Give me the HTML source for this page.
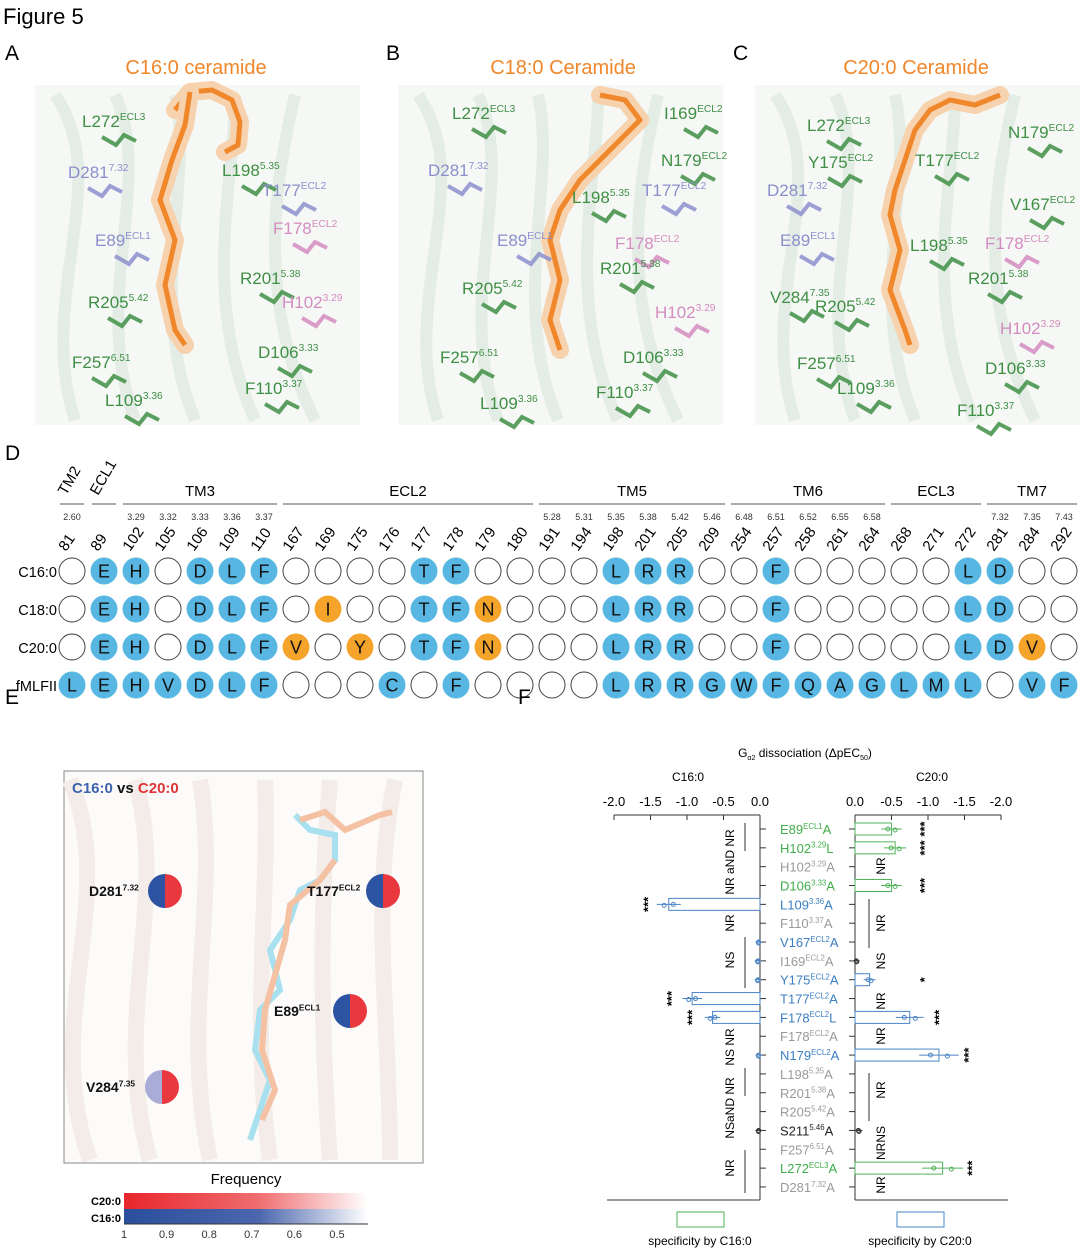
<!DOCTYPE html>
<html><head><meta charset="utf-8"><style>
body{margin:0;background:#fff;}
svg{display:block;font-family:"Liberation Sans",sans-serif;}
</style></head><body>
<svg id="fig" width="1080" height="1250" viewBox="0 0 1080 1250">
<defs>
<linearGradient id="gr" x1="0" x2="1"><stop offset="0" stop-color="#e8262c"/><stop offset="0.55" stop-color="#ef6d6f"/><stop offset="1" stop-color="#fff"/></linearGradient>
<linearGradient id="gb" x1="0" x2="1"><stop offset="0" stop-color="#2a4f9c"/><stop offset="0.55" stop-color="#4b66ad"/><stop offset="1" stop-color="#fff"/></linearGradient>
</defs>
<text x="3" y="24" font-size="22">Figure 5</text>
<g id="structs"></g>
<g id="panelD"></g>
<g id="panelE"></g>
<g id="panelF"></g>
<g font-size="21">
<text x="5" y="60">A</text><text x="386" y="60">B</text><text x="733" y="60">C</text>
<text x="5" y="460">D</text><text x="5" y="704">E</text><text x="518" y="704">F</text>
</g>
</svg>
<script>
const NS="http://www.w3.org/2000/svg";
function mk(p,tag,at,txt){const e=document.createElementNS(NS,tag);for(const k in at)e.setAttribute(k,at[k]);if(txt!=null)e.textContent=txt;p.appendChild(e);return e;}
function lab(p,x,y,base,sup,suf,col,fs){const t=mk(p,'text',{x:x,y:y,fill:col,'font-size':fs||17});mk(t,'tspan',{},base);mk(t,'tspan',{'font-size':(fs||17)*0.6,dy:-(fs||17)*0.4},sup);if(suf)mk(t,'tspan',{dy:(fs||17)*0.4},suf);return t;}

/* ---------- Panels A-C (structures, illustrative) ---------- */
const S=document.getElementById('structs');
const G='#3f8f45',P='#8b8fcc',K='#d48cc0',O='#f0872a';
const panels=[
 {x0:35,title:'C16:0 ceramide',tx:196,
  lig:[[[175,110],[190,92],[212,90],[232,100],[240,122],[238,145],[225,152]],[[190,92],[185,125],[172,160],[160,200],[175,240],[165,285],[175,330],[185,345]]],
  labs:[[82,127,'L272','ECL3',G],[68,178,'D281','7.32',P],[222,176,'L198','5.35',G],[262,196,'T177','ECL2',P],[95,246,'E89','ECL1',P],[273,234,'F178','ECL2',K],[240,284,'R201','5.38',G],[88,308,'R205','5.42',G],[282,308,'H102','3.29',K],[72,368,'F257','6.51',G],[258,358,'D106','3.33',G],[245,394,'F110','3.37',G],[105,406,'L109','3.36',G]]},
 {x0:398,title:'C18:0 Ceramide',tx:563,
  lig:[[[600,95],[625,100],[640,120],[620,140],[600,160],[580,180],[560,210],[550,240],[560,280],[550,320],[560,350]]],
  labs:[[452,119,'L272','ECL3',G],[664,119,'I169','ECL2',G],[428,176,'D281','7.32',P],[661,166,'N179','ECL2',G],[572,203,'L198','5.35',G],[642,196,'T177','ECL2',P],[497,246,'E89','ECL1',P],[615,249,'F178','ECL2',K],[600,274,'R201','5.38',G],[462,294,'R205','5.42',G],[655,318,'H102','3.29',K],[440,363,'F257','6.51',G],[623,363,'D106','3.33',G],[480,409,'L109','3.36',G],[596,398,'F110','3.37',G]]},
 {x0:755,title:'C20:0 Ceramide',tx:916,
  lig:[[[1000,95],[975,105],[950,100],[930,110],[915,130],[905,160],[895,190],[890,215],[900,250],[890,290],[905,330],[910,345]]],
  labs:[[807,131,'L272','ECL3',G],[1008,138,'N179','ECL2',G],[808,168,'Y175','ECL2',G],[915,166,'T177','ECL2',G],[767,196,'D281','7.32',P],[1010,210,'V167','ECL2',G],[780,246,'E89','ECL1',P],[910,251,'L198','5.35',G],[985,249,'F178','ECL2',K],[968,284,'R201','5.38',G],[770,303,'V284','7.35',G],[815,312,'R205','5.42',G],[1000,334,'H102','3.29',K],[797,369,'F257','6.51',G],[985,374,'D106','3.33',G],[837,394,'L109','3.36',G],[957,416,'F110','3.37',G]]}
];
panels.forEach((pn,i)=>{
 const g=mk(S,'g',{});
 
 
 mk(g,'rect',{x:pn.x0,y:85,width:325,height:340,fill:'#f5f8f5'});
 for(let k=0;k<5;k++){mk(g,'path',{d:`M${pn.x0+20+k*60} 95 C ${pn.x0+80+k*40} 180, ${pn.x0+k*55} 300, ${pn.x0+40+k*60} 420`,stroke:'#e4ede5','stroke-width':12,fill:'none'});}
 mk(g,'text',{x:pn.tx,y:74,'text-anchor':'middle','font-size':20,fill:O},pn.title);
 pn.lig.forEach(l=>{const d='M'+l.map(p=>p.join(' ')).join(' L');
  mk(g,'path',{d:d,stroke:'#f7d2ae','stroke-width':18,fill:'none','stroke-linejoin':'round','stroke-linecap':'round'});
  mk(g,'path',{d:d,stroke:O,'stroke-width':5,fill:'none','stroke-linejoin':'round'});});
 pn.labs.forEach(L=>{
  mk(g,'path',{d:`M${L[0]+20} ${L[1]+10} l14 8 l8 -10 l12 6`,stroke:L[4],'stroke-width':4,fill:'none',opacity:0.85});
  lab(g,L[0],L[1],L[2],L[3],null,L[4],17);});
});

/* ---------- Panel D ---------- */
const residues=['81','89','102','105','106','109','110','167','169','175','176','177','178','179','180','191','194','198','201','205','209','254','257','258','261','264','268','271','272','281','284','292'];
const bw=['2.60','','3.29','3.32','3.33','3.36','3.37','','','','','','','','','5.28','5.31','5.35','5.38','5.42','5.46','6.48','6.51','6.52','6.55','6.58','','','','7.32','7.35','7.43'];
const rowNames=['C16:0','C18:0','C20:0','fMLFII'];
const rowC16=['','E','H','','D','L','F','','','','','T','F','','','','','L','R','R','','','F','','','','','','L','D','',''];
const rowC18=['','E','H','','D','L','F','','I*','','','T','F','N*','','','','L','R','R','','','F','','','','','','L','D','',''];
const rowC20=['','E','H','','D','L','F','V*','','Y*','','T','F','N*','','','','L','R','R','','','F','','','','','','L','D','V*',''];
const rowFML=['L','E','H','V','D','L','F','','','','C','','F','','','','','L','R','R','G','W','F','Q','A','G','L','M','L','','V','F'];
const groups=[['TM3',2,6],['ECL2',7,14],['TM5',15,20],['TM6',21,25],['ECL3',26,28],['TM7',29,31]];
const D=document.getElementById('panelD');
const cx=i=>72+i*32.0, ry=[571,609,647,685];
groups.forEach(gr=>{
 const a=cx(gr[1])-13,b=cx(gr[2])+13;
 const t=mk(D,'text',{x:(a+b)/2,y:496,'text-anchor':'middle','font-size':15},gr[0]);
 
 
 mk(D,'line',{x1:a,x2:b,y1:504,y2:504,stroke:'#555','stroke-width':1});
});
[['TM2',0],['ECL1',1]].forEach(r=>{
 mk(D,'text',{x:cx(r[1])-6,y:496,'font-size':15,transform:`rotate(-60 ${cx(r[1])-6} 496)`},r[0]);
 mk(D,'line',{x1:cx(r[1])-12,x2:cx(r[1])+12,y1:504,y2:504,stroke:'#555'});
});
residues.forEach((r,i)=>{
 mk(D,'text',{x:cx(i),y:520,'text-anchor':'middle','font-size':9,fill:'#333'},bw[i]);
 const t=mk(D,'text',{x:cx(i)-6,y:552,'font-size':15,transform:`rotate(-55 ${cx(i)-6} 552)`},r);
 
 
});
[rowC16,rowC18,rowC20,rowFML].forEach((row,j)=>{
 const t=mk(D,'text',{x:57,y:ry[j]+6,'text-anchor':'end','font-size':14.5},rowNames[j]);
 
 
 row.forEach((v,i)=>{
  const orange=v.endsWith('*'),L=v.replace('*','');
  const c=mk(D,'circle',{cx:cx(i),cy:ry[j],r:L?13.5:13,fill:L?(orange?'#f5a42b':'#58b6e2'):'#fff',stroke:L?'none':'#444','stroke-width':1});
  
  
  if(L)mk(D,'text',{x:cx(i),y:ry[j]+6.5,'text-anchor':'middle','font-size':18,fill:'#111'},L);
 });
});

/* ---------- Panel E ---------- */
const E=document.getElementById('panelE');
mk(E,'rect',{x:64,y:771,width:359,height:392,fill:'#fdfbfa',stroke:'#888'});
for(let k=0;k<6;k++)mk(E,'path',{d:`M${70+k*65} 780 C ${120+k*50} 900, ${40+k*70} 1020, ${90+k*60} 1160`,stroke:'#f3ece8','stroke-width':16,fill:'none'});
mk(E,'path',{d:'M295 815 L310 830 L335 835 L335 860 L320 880 L300 890 L290 920 L270 950 L280 990 L260 1010 L255 1050 L270 1080 L260 1110 L250 1140',stroke:'#a8e0ef','stroke-width':6,fill:'none'});
mk(E,'path',{d:'M300 820 L325 812 L345 830 L380 815 L392 812 M335 860 L320 880 L290 905 L285 940 L275 975 L265 1010 L262 1050 L275 1090 L262 1120',stroke:'#f5c1a3','stroke-width':6,fill:'none'});
const et=mk(E,'text',{x:72,y:793,'font-size':15,'font-weight':'bold'});
mk(et,'tspan',{fill:'#3b62ad'},'C16:0');mk(et,'tspan',{fill:'#111'},' vs ');mk(et,'tspan',{fill:'#e0343a'},'C20:0');
const pies=[[165,891,'D281','7.32','#2d54a3'],[383,891,'T177','ECL2','#2d54a3'],[350,1011,'E89','ECL1','#2d54a3'],[162,1087,'V284','7.35','#a9acd6']];
pies.forEach(p=>{
 mk(E,'path',{d:`M${p[0]} ${p[1]-17} A17 17 0 0 0 ${p[0]} ${p[1]+17} Z`,fill:p[4]});
 mk(E,'path',{d:`M${p[0]} ${p[1]-17} A17 17 0 0 1 ${p[0]} ${p[1]+17} Z`,fill:'#e9393f'});
 const t=lab(E,p[0]-76,p[1]+5,p[2],p[3],null,'#111',14);t.setAttribute('font-weight','bold');
});
mk(E,'text',{x:246,y:1184,'text-anchor':'middle','font-size':15},'Frequency');
mk(E,'rect',{x:124,y:1193,width:244,height:16,fill:'url(#gr)'});
mk(E,'rect',{x:124,y:1209,width:244,height:15,fill:'url(#gb)'});
mk(E,'line',{x1:124,x2:368,y1:1224,y2:1224,stroke:'#333'});
mk(E,'text',{x:121,y:1205,'text-anchor':'end','font-size':11,'font-weight':'bold'},'C20:0');
mk(E,'text',{x:121,y:1222,'text-anchor':'end','font-size':11,'font-weight':'bold'},'C16:0');
const cbTicks=['1','0.9','0.8','0.7','0.6','0.5'];
cbTicks.forEach((t,i)=>mk(E,'text',{x:124+i*42.6,y:1238,'text-anchor':'middle','font-size':11,fill:'#333'},t));

/* ---------- Panel F ---------- */
const mutBase=['E89','H102','H102','D106','L109','F110','V167','I169','Y175','T177','F178','F178','N179','L198','R201','R205','S211','F257','L272','D281'];
const mutSup=['ECL1','3.29','3.29','3.33','3.36','3.37','ECL2','ECL2','ECL2','ECL2','ECL2','ECL2','ECL2','5.35','5.38','5.42','5.46','6.51','ECL3','7.32'];
const mutTo=['A','L','A','A','A','A','A','A','A','A','L','A','A','A','A','A','A','A','A','A'];
const mutCol=['g','g','x','g','b','x','b','x','b','b','b','x','b','x','x','x','k','x','g','x'];
const c16Vals=[null,null,null,null,-1.25,null,-0.02,-0.03,-0.03,-0.93,-0.65,null,-0.02,null,null,null,-0.02,null,null,null];
const c20Vals=[-0.5,-0.55,null,-0.5,null,null,null,-0.02,-0.2,null,-0.75,null,-1.15,null,null,null,-0.05,null,-1.2,null];
const c16Sig=['','','','','***','','','','','***','***','','','','','','','','',''];
const c20Sig=['***','***','','***','','','','','*','','***','','***','','','','','','***',''];
const xTicks=[0,-0.5,-1.0,-1.5,-2.0];
const COL={g:'#3fae49',b:'#3b7fc2',x:'#9a9a9a',k:'#222'};
const F=document.getElementById('panelF');
const xL=v=>760+v*73, xR=v=>855-v*73, yRow=i=>829+i*18.84;
const tt=mk(F,'text',{x:805,y:757,'text-anchor':'middle','font-size':12});
mk(tt,'tspan',{},'G');mk(tt,'tspan',{'font-size':7,dy:3},'α2');mk(tt,'tspan',{dy:-3},' dissociation (ΔpEC');mk(tt,'tspan',{'font-size':7,dy:3},'50');mk(tt,'tspan',{dy:-3},')');
mk(F,'text',{x:688,y:781,'text-anchor':'middle','font-size':12},'C16:0');
mk(F,'text',{x:932,y:781,'text-anchor':'middle','font-size':12},'C20:0');
mk(F,'line',{x1:xL(-2),x2:xL(0),y1:815,y2:815,stroke:'#333'});
mk(F,'line',{x1:xR(0),x2:xR(-2),y1:815,y2:815,stroke:'#333'});
xTicks.forEach(t=>{
 const lbl=t===0?'0.0':t.toFixed(1);
 mk(F,'line',{x1:xL(t),x2:xL(t),y1:815,y2:820,stroke:'#333'});
 mk(F,'line',{x1:xR(t),x2:xR(t),y1:815,y2:820,stroke:'#333'});
 mk(F,'text',{x:xL(t),y:806,'text-anchor':'middle','font-size':13},lbl);
 mk(F,'text',{x:xR(t),y:806,'text-anchor':'middle','font-size':13},lbl);
});
mk(F,'line',{x1:760,x2:760,y1:815,y2:1200,stroke:'#333'});
mk(F,'line',{x1:855,x2:855,y1:815,y2:1200,stroke:'#333'});
mk(F,'line',{x1:607,x2:760,y1:1200,y2:1200,stroke:'#333'});
mk(F,'line',{x1:855,x2:1008,y1:1200,y2:1200,stroke:'#333'});
mutBase.forEach((b,i)=>{
 const y=yRow(i),col=COL[mutCol[i]];
 mk(F,'line',{x1:760,x2:766,y1:y,y2:y,stroke:'#333'});
 mk(F,'line',{x1:849,x2:855,y1:y,y2:y,stroke:'#333'});
 const t=lab(F,780,y+5,b,mutSup[i],mutTo[i],col,13);
 
 
 const v1=c16Vals[i];
 if(v1!==null){
  const bcol=mutCol[i]==='k'?'#333':'#4a85c6';
  if(Math.abs(v1)>0.1){const r=mk(F,'rect',{x:xL(v1),y:y-6,width:760-xL(v1),height:12,fill:'none',stroke:bcol});
   
   }
  mk(F,'line',{x1:xL(v1*1.1)-3,x2:xL(v1*0.9)+3,y1:y,y2:y,stroke:bcol});
  mk(F,'circle',{cx:xL(v1*0.95),cy:y,r:2,fill:'none',stroke:bcol});
  mk(F,'circle',{cx:xL(v1*1.05),cy:y+1,r:2,fill:'none',stroke:bcol});
 }
 const v2=c20Vals[i];
 if(v2!==null){
  const bcol=mutCol[i]==='g'?'#52b35a':(mutCol[i]==='k'||mutCol[i]==='x'?'#333':'#4a85c6');
  if(Math.abs(v2)>0.1){const r=mk(F,'rect',{x:855,y:y-6,width:xR(v2)-855,height:12,fill:'none',stroke:bcol});
   
   }
  mk(F,'line',{x1:xR(v2*0.8)-3,x2:xR(v2*1.2)+3,y1:y,y2:y,stroke:bcol});
  mk(F,'circle',{cx:xR(v2*0.9),cy:y,r:2,fill:'none',stroke:bcol});
  mk(F,'circle',{cx:xR(v2*1.1),cy:y+1,r:2,fill:'none',stroke:bcol});
 }
 if(c16Sig[i])mk(F,'text',{x:xL(v1)-20,y:y+4,'font-size':13,'font-weight':'bold','text-anchor':'middle',transform:`rotate(-90 ${xL(v1)-20} ${y})`},c16Sig[i]);
 if(c20Sig[i]){const sx=Math.max(xR(v2)+30,925);mk(F,'text',{x:sx,y:y+4,'font-size':13,'font-weight':'bold','text-anchor':'middle',transform:`rotate(-90 ${sx} ${y})`},c20Sig[i]);}
});
const annL=[[862,'NR aND NR'],[923,'NR'],[960,'NS'],[1047,'NS NR'],[1108,'NSaND NR'],[1168,'NR']];
const annR=[[866,'NR'],[923,'NR'],[961,'NS'],[1001,'NR'],[1036,'NR'],[1090,'NR'],[1143,'NRNS'],[1185,'NR']];
annL.forEach(a=>mk(F,'text',{x:734,y:a[0],'font-size':12,'text-anchor':'middle',transform:`rotate(-90 734 ${a[0]})`},a[1]));
annR.forEach(a=>mk(F,'text',{x:885,y:a[0],'font-size':12,'text-anchor':'middle',transform:`rotate(-90 885 ${a[0]})`},a[1]));
[[823,851],[937,988],[1068,1096],[1150,1193]].forEach(s=>mk(F,'line',{x1:745,x2:745,y1:s[0],y2:s[1],stroke:'#333'}));
[[899,948],[1073,1121]].forEach(s=>mk(F,'line',{x1:869,x2:869,y1:s[0],y2:s[1],stroke:'#333'}));
mk(F,'rect',{x:677,y:1212,width:47,height:15,fill:'none',stroke:'#52b35a'});
mk(F,'rect',{x:897,y:1212,width:47,height:15,fill:'none',stroke:'#4a85c6'});
mk(F,'text',{x:700,y:1245,'text-anchor':'middle','font-size':12},'specificity by C16:0');
mk(F,'text',{x:920,y:1245,'text-anchor':'middle','font-size':12},'specificity by C20:0');
</script>
</body></html>
